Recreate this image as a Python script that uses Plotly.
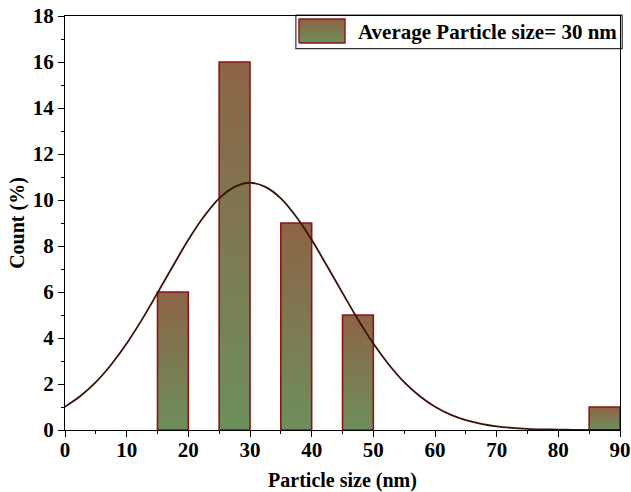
import plotly.graph_objects as go

# Data
bin_left = [15, 25, 35, 45, 85]
bin_width = 5
counts = [6, 16, 9, 5, 1]
fit_x = [0, 2.5, 5, 7.5, 10, 12.5, 15, 17.5, 20, 22.5, 25, 27.5, 30, 32.5, 35, 37.5, 40,
         42.5, 45, 47.5, 50, 52.5, 55, 57.5, 60, 62.5, 65, 67.5, 70, 72.5, 75, 77.5, 80,
         82.5, 85, 87.5, 90]
fit_y = [1.01, 1.48, 2.08, 2.85, 3.76, 4.81, 5.96, 7.13, 8.27, 9.27, 10.07, 10.57, 10.75,
         10.57, 10.07, 9.27, 8.27, 7.13, 5.96, 4.81, 3.76, 2.85, 2.08, 1.48, 1.01, 0.67,
         0.43, 0.27, 0.16, 0.094, 0.053, 0.029, 0.015, 0.008, 0.004, 0.002, 0.001]
legend_text = "Average Particle size= 30 nm"

GREEN = "#6d8f5c"
BROWN = "#8d6446"
EDGE = "#8b1414"
FONT = "Liberation Serif"

fig = go.Figure()

for l, v in zip(bin_left, counts):
    r = l + bin_width
    fig.add_trace(go.Scatter(
        x=[l, l, r, r, l], y=[0, v, v, 0, 0],
        mode="lines", fill="toself",
        line=dict(color=EDGE, width=1.6),
        fillgradient=dict(type="vertical", colorscale=[[0, GREEN], [1, BROWN]]),
        showlegend=False, hoverinfo="skip",
    ))

fig.add_trace(go.Scatter(
    x=fit_x, y=fit_y, mode="lines",
    line=dict(color="#3a1208", width=1.8, shape="spline", smoothing=0.8),
    showlegend=False, hoverinfo="skip",
))

# Legend swatch on an overlay axis (fractions of the plot area)
sw_x0, sw_x1, sw_y0, sw_y1 = 0.4216, 0.5045, 0.9348, 0.9928
fig.add_trace(go.Scatter(
    x=[sw_x0, sw_x0, sw_x1, sw_x1, sw_x0], y=[sw_y0, sw_y1, sw_y1, sw_y0, sw_y0],
    xaxis="x2", yaxis="y2", mode="lines", fill="toself",
    line=dict(color=EDGE, width=1.4),
    fillgradient=dict(type="vertical", colorscale=[[0, GREEN], [1, BROWN]]),
    showlegend=False, hoverinfo="skip",
))

fig.add_shape(type="rect", xref="paper", yref="paper",
              x0=0.416, x1=1.004, y0=0.921, y1=1.002,
              line=dict(color="#333333", width=1.2), fillcolor="rgba(0,0,0,0)", layer="below")
fig.add_annotation(xref="paper", yref="paper", x=0.524, y=0.961,
                   xanchor="left", yanchor="middle", showarrow=False,
                   text=legend_text,
                   font=dict(family=FONT, size=21, color="black", weight="bold"))

tickfont = dict(family=FONT, size=21, color="black", weight="bold")
titlefont = dict(family=FONT, size=20, color="black", weight="bold")

fig.update_layout(
    width=631, height=492,
    margin=dict(l=65, r=11, t=16, b=62, autoexpand=False),
    paper_bgcolor="white", plot_bgcolor="white",
    showlegend=False,
    xaxis=dict(
        range=[0, 90], tickmode="linear", tick0=0, dtick=10,
        ticks="outside", ticklen=6, tickwidth=1.2, tickcolor="black",
        minor=dict(dtick=5, ticks="outside", ticklen=3, tickwidth=1.2, tickcolor="black"),
        showline=True, linecolor="black", linewidth=1.3, mirror=True,
        showgrid=False, zeroline=False, automargin=False,
        tickfont=tickfont, ticklabelstandoff=-5,
        title=dict(text="Particle size (nm)", font=titlefont, standoff=14),
    ),
    yaxis=dict(
        range=[0, 18], tickmode="linear", tick0=0, dtick=2,
        ticks="outside", ticklen=6, tickwidth=1.2, tickcolor="black",
        minor=dict(dtick=1, ticks="outside", ticklen=3, tickwidth=1.2, tickcolor="black"),
        showline=True, linecolor="black", linewidth=1.3, mirror=True,
        showgrid=False, zeroline=False, automargin=False,
        tickfont=tickfont,
        title=dict(text="Count (%)", font=titlefont, standoff=2),
    ),
    xaxis2=dict(overlaying="x", range=[0, 1], visible=False, fixedrange=True),
    yaxis2=dict(overlaying="y", range=[0, 1], visible=False, fixedrange=True),
)

fig.write_html("out.html")
